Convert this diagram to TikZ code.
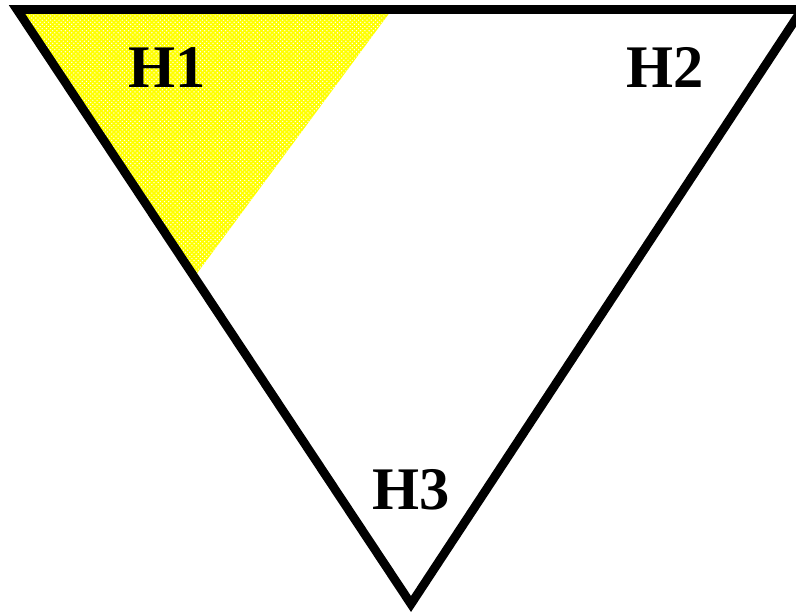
\documentclass[tikz,border=0pt]{standalone}
\usepackage{fontspec}
\setmainfont{Liberation Serif}
\usetikzlibrary{calc,patterns}
\definecolor{ZoneYellow}{HTML}{FFFF00}
\definecolor{ZoneEdge}{HTML}{000000}
\tikzset{
  zonelabel/.style={font=\fontsize{43}{43}\selectfont\bfseries\color{ZoneEdge}, inner sep=0pt},
  zonefill/.style={fill=ZoneYellow, draw=none,
                   postaction={pattern=crosshatch dots, pattern color=white}},
  zoneedge/.style={draw=ZoneEdge, line width=0.22cm, line join=miter},
}
\begin{document}
\begin{tikzpicture}[x=0.025cm, y=-0.025cm]

  % picture frame (the triangle runs off the right side)
  \clip (0,0) rectangle (796,615);

  % corners of the triangle
  \coordinate (TL) at (17,9.5);
  \coordinate (TR) at (802,9.5);
  \coordinate (BT) at (411,604);
  \coordinate (CutTop) at (392,9.5);
  \coordinate (CutLow) at ($(TL)!0.45!(BT)$);

  % shaded corner
  \fill[zonefill] (TL) -- (CutTop) -- (CutLow) -- cycle;

  % outline
  \draw[zoneedge] (TL) -- (TR) -- (BT) -- cycle;

  % labels
  \node[zonelabel] (h1) at (167.5,68) {H1};
  \node[zonelabel] (h2) at (665,67) {H2};
  \node[zonelabel] (h3) at (411.5,490) {H3};

\end{tikzpicture}
\end{document}
